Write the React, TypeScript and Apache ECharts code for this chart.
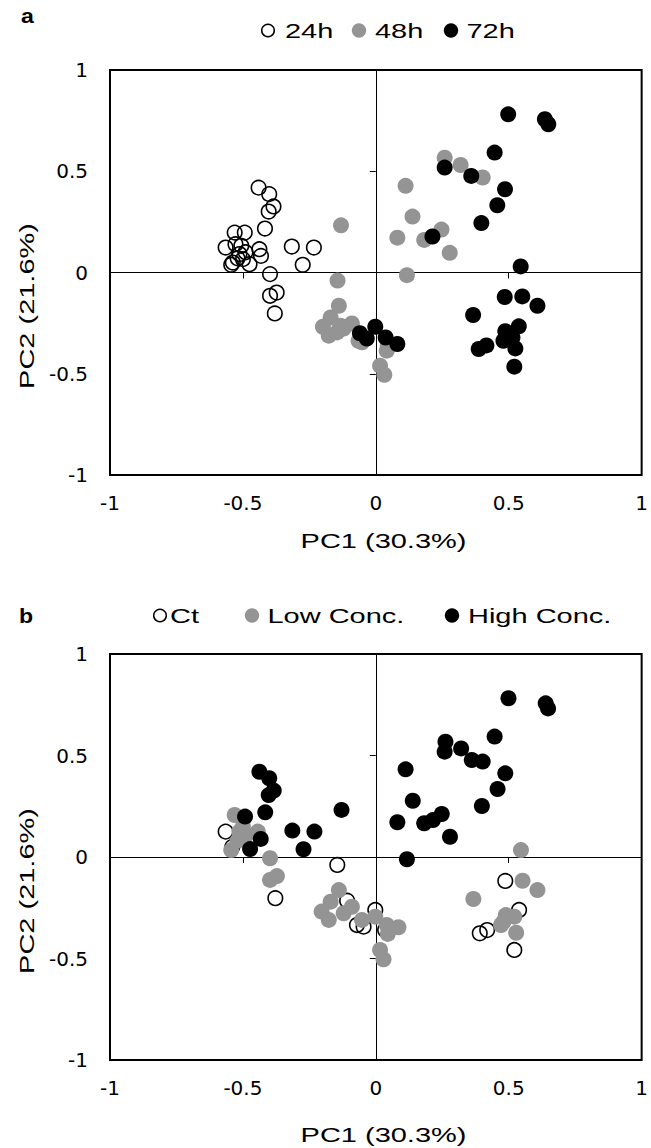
import React, { useEffect, useRef } from "react";
import * as echarts from "echarts";

// ---------- data ----------
const AXIS_MIN = -1;
const AXIS_MAX = 1;
const AXIS_STEP = 0.5;

const X_TITLE = "PC1 (30.3%)";
const Y_TITLE = "PC2 (21.6%)";
const PANEL_LABELS = ["a", "b"];
const LEGEND_A = ["24h", "48h", "72h"];
const LEGEND_B = ["Ct", "Low Conc.", "High Conc."];

// Panel a: time points
const a24h: number[][] = [
  [-0.441, 0.419], [-0.401, 0.387], [-0.385, 0.326], [-0.403, 0.301], [-0.417, 0.217],
  [-0.531, 0.197], [-0.493, 0.197], [-0.565, 0.123], [-0.528, 0.14], [-0.506, 0.132],
  [-0.438, 0.115], [-0.432, 0.082], [-0.538, 0.049], [-0.544, 0.038], [-0.5, 0.066],
  [-0.475, 0.041], [-0.513, 0.091], [-0.49, 0.1], [-0.52, 0.07], [-0.316, 0.128],
  [-0.233, 0.123], [-0.275, 0.038], [-0.398, -0.008], [-0.373, -0.099], [-0.398, -0.115],
  [-0.38, -0.202],
];
const a48h: number[][] = [
  [0.259, 0.567], [0.319, 0.531], [0.402, 0.469], [0.112, 0.428], [0.138, 0.276],
  [0.081, 0.172], [0.182, 0.161], [0.247, 0.212], [0.278, 0.097], [0.117, -0.013],
  [-0.131, 0.233], [-0.144, -0.04], [-0.139, -0.164], [-0.17, -0.222], [-0.199, -0.268],
  [-0.177, -0.312], [-0.133, -0.263], [-0.146, -0.296], [-0.09, -0.252], [-0.121, -0.277],
  [-0.065, -0.337], [-0.052, -0.345], [0.041, -0.386], [0.045, -0.36], [0.016, -0.46],
  [0.032, -0.505],
];
const a72h: number[][] = [
  [0.498, 0.781], [0.636, 0.757], [0.649, 0.732], [0.447, 0.592], [0.259, 0.518],
  [0.359, 0.477], [0.486, 0.411], [0.457, 0.332], [0.397, 0.244], [0.213, 0.178],
  [0.545, 0.03], [0.485, -0.121], [0.551, -0.118], [0.608, -0.164], [0.366, -0.21],
  [0.538, -0.266], [0.487, -0.29], [0.5, -0.31], [0.514, -0.321], [0.48, -0.337],
  [0.416, -0.36], [0.387, -0.378], [0.525, -0.375], [0.521, -0.465],
  [-0.06, -0.3], [-0.034, -0.326], [-0.002, -0.268], [0.037, -0.321], [0.081, -0.353],
];

// Panel b: concentrations
const bCt: number[][] = [
  [-0.565, 0.125], [-0.54, 0.05], [-0.145, -0.039], [-0.378, -0.203], [-0.108, -0.215],
  [-0.071, -0.335], [-0.046, -0.343], [-0.002, -0.261], [0.035, -0.36],
  [0.487, -0.118], [0.539, -0.261], [0.391, -0.376], [0.419, -0.36], [0.521, -0.458],
];
const bLow: number[][] = [
  [-0.531, 0.207], [-0.544, 0.034], [-0.513, 0.125], [-0.488, 0.108], [-0.444, 0.125],
  [-0.52, 0.08], [-0.5, 0.15], [-0.398, -0.006], [-0.372, -0.094], [-0.398, -0.113],
  [-0.139, -0.163], [-0.17, -0.22], [-0.204, -0.269], [-0.177, -0.31], [-0.121, -0.277],
  [-0.09, -0.245], [-0.052, -0.31], [-0.002, -0.294], [0.041, -0.335], [0.085, -0.346],
  [0.045, -0.379], [0.016, -0.458], [0.029, -0.504],
  [0.546, 0.034], [0.552, -0.117], [0.608, -0.163], [0.367, -0.207], [0.489, -0.286],
  [0.521, -0.294], [0.48, -0.32], [0.471, -0.335], [0.528, -0.373],
];
const bHigh: number[][] = [
  [-0.438, 0.42], [-0.401, 0.388], [-0.384, 0.327], [-0.403, 0.305], [-0.416, 0.22],
  [-0.492, 0.199], [-0.433, 0.089], [-0.473, 0.039], [-0.314, 0.13], [-0.231, 0.125],
  [-0.272, 0.038], [-0.129, 0.232],
  [0.499, 0.782], [0.639, 0.757], [0.648, 0.732], [0.447, 0.593], [0.262, 0.568],
  [0.259, 0.519], [0.321, 0.535], [0.361, 0.478], [0.402, 0.47], [0.487, 0.412],
  [0.458, 0.335], [0.399, 0.251], [0.112, 0.432], [0.139, 0.277], [0.081, 0.171],
  [0.182, 0.166], [0.215, 0.182], [0.248, 0.212], [0.279, 0.1], [0.117, -0.011],
];

// ---------- styles ----------
const GRAY = "#949494";
const TICK_FONT = "DejaVu Sans";
const TEXT_FONT = "Liberation Sans, Arial, Helvetica, sans-serif";
const STRETCH = 1.38;

const GRIDS = [
  { left: 110, top: 70, width: 535, height: 405 },
  { left: 110, top: 654, width: 535, height: 406 },
];

function labelAxis(dim: "x" | "y", gridIndex: number) {
  return {
    type: "value",
    gridIndex,
    min: AXIS_MIN,
    max: AXIS_MAX,
    interval: AXIS_STEP,
    position: dim === "x" ? "bottom" : "left",
    axisLine: { show: false, onZero: false },
    axisTick: { show: false },
    splitLine: { show: false },
    axisLabel: {
      show: true,
      color: "#000",
      fontFamily: TICK_FONT,
      fontSize: 20,
      margin: dim === "x" ? 18 : 22,
    },
  };
}
function zeroAxis(dim: "x" | "y", gridIndex: number) {
  return {
    type: "value",
    gridIndex,
    min: AXIS_MIN,
    max: AXIS_MAX,
    interval: AXIS_STEP,
    position: dim === "x" ? "bottom" : "left",
    axisLine: { show: true, onZero: true, lineStyle: { color: "#000", width: 1 } },
    axisTick: { show: true, inside: false, length: 6, lineStyle: { color: "#000", width: 1 } },
    splitLine: { show: false },
    axisLabel: { show: false },
  };
}

function openSeries(name: string, data: number[][], idx: number) {
  return {
    name, type: "scatter", data, xAxisIndex: idx, yAxisIndex: idx,
    symbol: "circle", symbolSize: 14.5,
    itemStyle: { color: "rgba(255,255,255,0)", borderColor: "#000", borderWidth: 1.6, opacity: 1 },
  };
}
function filledSeries(name: string, data: number[][], idx: number, color: string) {
  return {
    name, type: "scatter", data, xAxisIndex: idx, yAxisIndex: idx,
    symbol: "circle", symbolSize: 16,
    itemStyle: { color, opacity: 1 },
  };
}

function txt(text: string, x: number, y: number, opts: any = {}) {
  return {
    type: "text",
    x, y,
    scaleX: opts.scaleX ?? STRETCH,
    rotation: opts.rotation ?? 0,
    style: {
      text,
      fill: "#000",
      fontFamily: TEXT_FONT,
      fontSize: opts.fontSize ?? 21,
      fontWeight: opts.bold ? "bold" : "normal",
      align: opts.align ?? "left",
      verticalAlign: "middle",
    },
  };
}
function dot(cx: number, cy: number, kind: number) {
  return {
    type: "circle",
    shape: { cx, cy, r: kind === 0 ? 6.3 : 7.2 },
    style: kind === 0
      ? { fill: "none", stroke: "#000", lineWidth: 1.5 }
      : { fill: kind === 1 ? GRAY : "#000" },
  };
}

export default function App() {
  const ref = useRef<HTMLDivElement>(null);
  useEffect(() => {
    if (!ref.current) return;
    const chart = echarts.init(ref.current, null, { renderer: "svg" });

    const legendA = [
      { cx: 268, tx: 285 }, { cx: 359, tx: 375 }, { cx: 451, tx: 466.5 },
    ];
    const legendB = [
      { cx: 160, tx: 170 }, { cx: 252, tx: 267.5 }, { cx: 452, tx: 468 },
    ];
    const graphics: any[] = [
      txt(PANEL_LABELS[0], 21, 16, { bold: true, scaleX: 1.1 }),
      txt(PANEL_LABELS[1], 19, 615.5, { bold: true, scaleX: 1.1 }),
      txt(X_TITLE, 383.5, 541, { align: "center" }),
      txt(X_TITLE, 383.5, 1135, { align: "center" }),
      txt(Y_TITLE, 27, 306, { align: "center", rotation: Math.PI / 2 }),
      txt(Y_TITLE, 27, 891, { align: "center", rotation: Math.PI / 2 }),
    ];
    legendA.forEach((p, i) => {
      graphics.push(dot(p.cx, 30.5, i));
      graphics.push(txt(LEGEND_A[i], p.tx, 30.5));
    });
    legendB.forEach((p, i) => {
      graphics.push(dot(p.cx, 615.5, i));
      graphics.push(txt(LEGEND_B[i], p.tx, 615.5));
    });

    chart.setOption({
      animation: false,
      backgroundColor: "#fff",
      grid: GRIDS.map((g) => ({
        ...g,
        show: true,
        borderColor: "#000",
        borderWidth: 2,
        backgroundColor: "rgba(0,0,0,0)",
        containLabel: false,
      })),
      xAxis: [labelAxis("x", 0), zeroAxis("x", 0), labelAxis("x", 1), zeroAxis("x", 1)],
      yAxis: [labelAxis("y", 0), zeroAxis("y", 0), labelAxis("y", 1), zeroAxis("y", 1)],
      series: [
        openSeries(LEGEND_A[0], a24h, 0),
        filledSeries(LEGEND_A[1], a48h, 0, GRAY),
        filledSeries(LEGEND_A[2], a72h, 0, "#000"),
        openSeries(LEGEND_B[0], bCt, 2),
        filledSeries(LEGEND_B[1], bLow, 2, GRAY),
        filledSeries(LEGEND_B[2], bHigh, 2, "#000"),
      ],
      graphic: graphics,
    });
    return () => chart.dispose();
  }, []);
  return (
    <div
      ref={ref}
      style={{ position: "absolute", left: 0, top: 0, width: 651, height: 1148 }}
    />
  );
}
